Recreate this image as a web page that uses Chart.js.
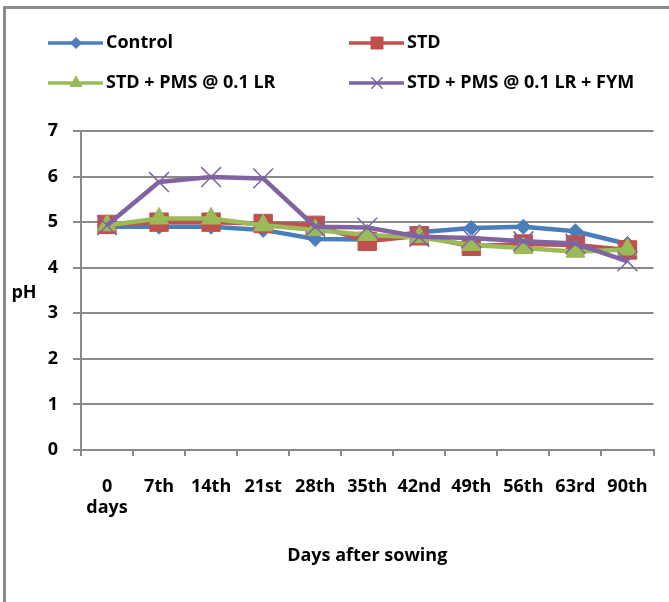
<!DOCTYPE html>
<html>
<head>
<meta charset="utf-8">
<script src="https://cdn.jsdelivr.net/npm/chart.js@4.4.0/dist/chart.umd.min.js"></script>
<style>
  html, body { margin: 0; padding: 0; background: #fff; }
  #wrap { position: relative; width: 669px; height: 602px; overflow: hidden; }
  #frame { position: absolute; left: 3px; top: 6px; right: -10px; bottom: -10px;
           border-left: 3px solid #8c8c8c; border-top: 3px solid #8c8c8c; }
  canvas { position: absolute; left: 0; top: 0; }
</style>
</head>
<body>
<div id="wrap"><div id="frame"></div><canvas id="c" width="669" height="602"></canvas></div>
<script>
// data
const days = [['0', 'days'], '7th', '14th', '21st', '28th', '35th', '42nd', '49th', '56th', '63rd', '90th'];
const control   = [4.90, 4.90, 4.90, 4.83, 4.63, 4.62, 4.78, 4.87, 4.90, 4.80, 4.52];
const std       = [4.95, 5.00, 5.00, 4.97, 4.93, 4.58, 4.70, 4.47, 4.52, 4.50, 4.39];
const stdPms    = [4.93, 5.08, 5.08, 4.93, 4.83, 4.72, 4.67, 4.50, 4.43, 4.35, 4.40];
const stdPmsFym = [4.93, 5.88, 5.99, 5.96, 4.90, 4.88, 4.68, 4.65, 4.58, 4.53, 4.14];
const yMin = 0, yMax = 7, yStep = 1;

const FONT = '"Open Sans"';
const FS = 18;
const gridCol = '#8a8a8a';

const series = [
  { label: 'Control', data: control, color: '#4a7ebb', style: 'rectRot', r: 7.5, lr: 5.5, order: 3 },
  { label: 'STD', data: std, color: '#c0504d', style: 'rect', r: 13, lr: 8.5, order: 2 },
  { label: 'STD + PMS @ 0.1 LR', data: stdPms, color: '#9bbb59', style: 'triangle', r: 11, lr: 7, order: 1 },
  { label: 'STD + PMS @ 0.1 LR + FYM', data: stdPmsFym, color: '#8064a2', style: 'crossRot', r: 14, lr: 8, order: 0 }
];

// legend in two columns, drawn like the picture
const legendSpots = [[48, 43], [349, 43], [48, 83], [349, 83]];
const legendPlugin = {
  id: 'twoColLegend',
  afterDraw(chart) {
    const ctx = chart.ctx;
    ctx.save();
    series.forEach((s, i) => {
      const [x, y] = legendSpots[i];
      ctx.strokeStyle = s.color;
      ctx.lineWidth = 3.5;
      ctx.beginPath();
      ctx.moveTo(x, y);
      ctx.lineTo(x + 55, y);
      ctx.stroke();
      ctx.fillStyle = s.color;
      ctx.strokeStyle = s.color;
      ctx.lineWidth = s.style === 'crossRot' ? 1.5 : 1;
      Chart.helpers.drawPoint(ctx, { pointStyle: s.style, radius: s.lr, rotation: 0, borderWidth: ctx.lineWidth }, x + 28, y);
      ctx.fillStyle = '#000';
      ctx.font = 'bold ' + FS + 'px ' + FONT;
      ctx.textBaseline = 'middle';
      ctx.textAlign = 'left';
      ctx.fillText(s.label, x + 58, y);
    });
    // horizontal y-axis title
    ctx.font = 'bold ' + FS + 'px ' + FONT;
    ctx.textAlign = 'center';
    ctx.fillText('pH', 24, 293);
    ctx.restore();
  }
};

new Chart(document.getElementById('c'), {
  type: 'line',
  data: {
    labels: days,
    datasets: series.map(s => ({
      label: s.label,
      data: s.data,
      borderColor: s.color,
      backgroundColor: s.color,
      borderWidth: 4.5,
      pointStyle: s.style,
      pointRadius: s.r,
      pointHoverRadius: s.r,
      pointBorderWidth: s.style === 'crossRot' ? 1.5 : 1,
      tension: 0,
      order: s.order
    }))
  },
  options: {
    responsive: false,
    animation: false,
    events: [],
    layout: { padding: { left: 0, top: 131, right: 15, bottom: 0 } },
    plugins: { legend: { display: false }, tooltip: { enabled: false } },
    scales: {
      x: {
        offset: true,
        grid: { drawOnChartArea: false, offset: true, tickLength: 6, color: gridCol, lineWidth: 2 },
        border: { color: gridCol, width: 2 },
        ticks: { color: '#000', padding: 20, maxRotation: 0, font: { family: FONT, weight: 'bold', size: FS, lineHeight: 1.17 } },
        title: { display: true, text: 'Days after sowing', color: '#000', padding: { top: 0, bottom: 35 },
                 font: { family: FONT, weight: 'bold', size: FS } },
        afterFit(scale) { scale.height = 152; }
      },
      y: {
        min: yMin, max: yMax,
        grid: { color: gridCol, lineWidth: 2, tickLength: 8 },
        border: { color: gridCol, width: 2 },
        ticks: { stepSize: yStep, color: '#000', padding: 15, font: { family: FONT, weight: 'bold', size: FS } },
        afterFit(scale) { scale.width = 81; }
      }
    }
  },
  plugins: [legendPlugin]
});
</script>
</body>
</html>
